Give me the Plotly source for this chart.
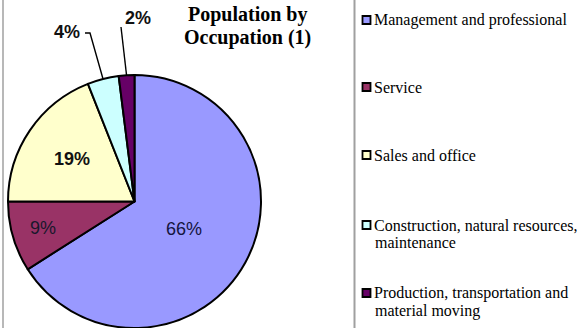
import math
import plotly.graph_objects as go

# Occupation shares (percent of employed population)
categories = [
    "Management and professional",
    "Service",
    "Sales and office",
    "Construction, natural resources,<br>maintenance",
    "Production, transportation and<br>material moving",
]
shares = [66, 9, 19, 4, 2]
colors = ["#9999FF", "#993366", "#FFFFCC", "#CCFFFF", "#660066"]
title_lines = ["Population by", "Occupation (1)"]

W, H = 577, 328
dom_x = [7 / W, 262 / W]
dom_y = [0.0, 253 / H]

fig = go.Figure(
    go.Pie(
        values=shares,
        labels=[c.replace("<br>", " ") for c in categories],
        sort=False,
        direction="clockwise",
        rotation=0,
        marker=dict(colors=colors, line=dict(color="#000000", width=2)),
        textinfo="none",
        hoverinfo="label+percent",
        showlegend=False,
        domain=dict(x=dom_x, y=dom_y),
    )
)

# pie geometry in pixels, derived from the domain
cx = (dom_x[0] + dom_x[1]) / 2 * W
cy = H * (1 - (dom_y[0] + dom_y[1]) / 2)
rad = min((dom_x[1] - dom_x[0]) * W, (dom_y[1] - dom_y[0]) * H) / 2


def px(x, y):
    return x / W, 1 - y / H


def polar(angle_deg, rf):
    a = math.radians(angle_deg)
    return cx + rf * rad * math.sin(a), cy - rf * rad * math.cos(a)


total = sum(shares)
mid_angles = []
acc = 0.0
for v in shares:
    mid_angles.append((acc + v / 2) / total * 360)
    acc += v

annotations = []
shapes = []

# labels inside the three larger slices
inside_style = {
    0: dict(rf=0.45, bold=False, color="#141440"),
    1: dict(rf=0.75, bold=False, color="#18182c"),
    2: dict(rf=0.60, bold=True, color="#111111"),
}
for i, st in inside_style.items():
    x, y = polar(mid_angles[i], st["rf"])
    ax_, ay_ = px(x, y)
    txt = f"{shares[i]}%"
    if st["bold"]:
        txt = f"<b>{txt}</b>"
    annotations.append(dict(
        x=ax_, y=ay_, xref="paper", yref="paper", text=txt, showarrow=False,
        xanchor="center", yanchor="middle",
        font=dict(family="Liberation Sans, Arial", size=18, color=st["color"]),
    ))

# labels outside the two thin slices, with leader lines
outside_style = {
    3: dict(label=(67, 32), path=[(85, 33), (90, 33)]),
    4: dict(label=(138, 18), path=[(121, 27)]),
}
for i, st in outside_style.items():
    lx, ly = st["label"]
    ex, ey = polar(mid_angles[i], 1.0)
    pts = st["path"] + [(ex, ey)]
    d = "M " + " L ".join(f"{px(a, b)[0]:.5f},{px(a, b)[1]:.5f}" for a, b in pts)
    shapes.append(dict(type="path", path=d, xref="paper", yref="paper",
                       line=dict(color="#000000", width=1.4)))
    ax_, ay_ = px(lx, ly)
    annotations.append(dict(
        x=ax_, y=ay_, xref="paper", yref="paper", text=f"<b>{shares[i]}%</b>",
        showarrow=False, xanchor="center", yanchor="middle",
        font=dict(family="Liberation Sans, Arial", size=18, color="#111111"),
    ))

# title
for k, line in enumerate(title_lines):
    tx, ty = px(247, 14 + 23 * k)
    annotations.append(dict(
        x=tx, y=ty, xref="paper", yref="paper", text=f"<b>{line}</b>",
        showarrow=False, xanchor="center", yanchor="middle",
        font=dict(family="Liberation Serif, Times New Roman", size=20, color="#000000"),
    ))

# legend: square swatch plus serif label for each category
row_y = [20, 87, 155, 225, 293]
for i, cat in enumerate(categories):
    y0 = row_y[i]
    x0a, y0a = px(362.5, y0 - 4)
    x1a, y1a = px(370.5, y0 + 4)
    shapes.append(dict(type="rect", xref="paper", yref="paper",
                       x0=x0a, x1=x1a, y0=y1a, y1=y0a,
                       fillcolor=colors[i], line=dict(color="#000000", width=1.8)))
    for j, part in enumerate(cat.split("<br>")):
        tx, ty = px(372 if j == 0 else 373, y0 + 17.5 * j)
        annotations.append(dict(
            x=tx, y=ty, xref="paper", yref="paper", text=part, showarrow=False,
            xanchor="left", yanchor="middle",
            font=dict(family="Liberation Serif, Times New Roman", size=16, color="#000000"),
        ))

# frame lines
for xline, col in [(3, "#b8b8b8"), (354.5, "#a0a0a0")]:
    xp = xline / W
    shapes.append(dict(type="line", xref="paper", yref="paper",
                       x0=xp, x1=xp, y0=0, y1=1, line=dict(color=col, width=2)))

fig.update_layout(
    width=W, height=H,
    margin=dict(l=0, r=0, t=0, b=0),
    paper_bgcolor="#ffffff",
    plot_bgcolor="#ffffff",
    annotations=annotations,
    shapes=shapes,
)

fig.write_html("out.html")
